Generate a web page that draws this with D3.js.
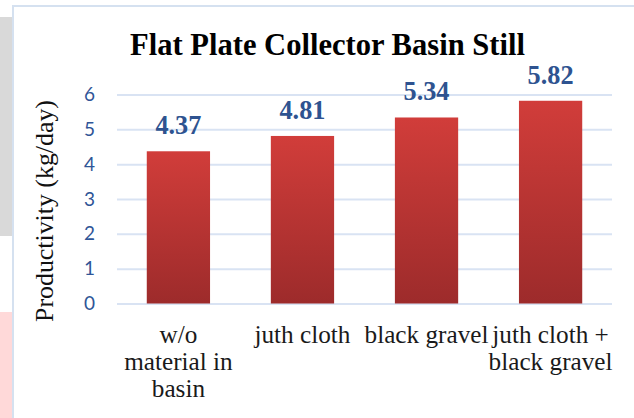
<!DOCTYPE html>
<html><head><meta charset="utf-8">
<script src="https://cdn.jsdelivr.net/npm/d3@7"></script>
<style>html,body{margin:0;padding:0;background:#fff;overflow:hidden}</style>
</head><body>
<script>
const title = "Flat Plate Collector Basin Still";
const yTitle = "Productivity (kg/day)";
const categories = ["w/o\nmaterial in\nbasin", "juth cloth", "black gravel", "juth cloth +\nblack gravel"];
const values = [4.37, 4.81, 5.34, 5.82];
const yTicks = [0, 1, 2, 3, 4, 5, 6];

const W = 634, H = 418;
const serif = "'Liberation Serif', serif";
const sans = "Lato, 'Open Sans', sans-serif";

const svg = d3.select("body").append("svg").attr("width", W).attr("height", H);

// page background fragments
svg.append("rect").attr("x", 0).attr("y", 17).attr("width", 12).attr("height", 219).attr("fill", "#d9d9d9");
svg.append("rect").attr("x", 0).attr("y", 312).attr("width", 12).attr("height", 106).attr("fill", "#ffd9d9");
// chart border
svg.append("path").attr("d", `M13,${H} V6 H${W}`).attr("fill", "none").attr("stroke", "#d5e1f0").attr("stroke-width", 2);

function fitSize(text, family, weight, target) {
  const t = svg.append("text").attr("font-family", family).attr("font-weight", weight).attr("font-size", 100).text(text);
  const w = t.node().getComputedTextLength();
  t.remove();
  return 100 * target / w;
}

const plot = {left: 117, right: 612, top: 94.5, bottom: 303.5};
const x = d3.scaleBand().domain(categories).range([plot.left, plot.right]).paddingInner(0.49).paddingOuter(0.24);
const y = d3.scaleLinear().domain([0, 6]).range([plot.bottom, plot.top]);

// gradient
const defs = svg.append("defs");
const grad = defs.append("linearGradient").attr("id", "barGrad").attr("x1", 0).attr("y1", 0).attr("x2", 0).attr("y2", 1);
grad.append("stop").attr("offset", "0%").attr("stop-color", "#d13d3a");
grad.append("stop").attr("offset", "100%").attr("stop-color", "#9d2b2b");

// gridlines + y axis
const yAxis = svg.append("g").attr("transform", `translate(${plot.left},0)`)
  .call(d3.axisLeft(y).tickValues(yTicks).tickFormat(d3.format("d")).tickSize(-(plot.right - plot.left)).tickPadding(22));
yAxis.select(".domain").remove();
yAxis.selectAll(".tick line").attr("stroke", "#d9e3f3").attr("stroke-width", 2);
yAxis.selectAll(".tick text").attr("fill", "#2f5597").attr("font-family", sans).attr("font-size", 19);

// bars
svg.append("g").selectAll("rect").data(values).join("rect")
  .attr("x", (d, i) => x(categories[i]))
  .attr("width", x.bandwidth())
  .attr("y", d => y(d))
  .attr("height", d => y(0) - y(d))
  .attr("fill", "url(#barGrad)");

// data labels
const dlSize = fitSize("4.81", serif, "bold", 46);
svg.append("g").selectAll("text").data(values).join("text")
  .attr("x", (d, i) => x(categories[i]) + x.bandwidth() / 2)
  .attr("y", d => y(d) - 17)
  .attr("text-anchor", "middle")
  .attr("font-family", serif).attr("font-weight", "bold").attr("font-size", dlSize)
  .attr("fill", "#2e5390")
  .text(d => d3.format(".2f")(d));

// category labels
const catSize = fitSize("juth cloth", serif, "normal", 96);
const cat = svg.append("g").selectAll("text").data(categories).join("text")
  .attr("text-anchor", "middle")
  .attr("font-family", serif).attr("font-size", catSize).attr("fill", "#1a1a1a");
cat.each(function(d) {
  const cx = x(d) + x.bandwidth() / 2;
  d3.select(this).selectAll("tspan").data(d.split("\n")).join("tspan")
    .attr("x", cx)
    .attr("y", (s, j) => plot.bottom + 39.5 + j * 27)
    .text(s => s);
});

// y title
const ytSize = fitSize(yTitle, serif, "normal", 222);
svg.append("text")
  .attr("transform", `translate(53,${(plot.top + plot.bottom) / 2 + 12}) rotate(-90)`)
  .attr("text-anchor", "middle")
  .attr("font-family", serif).attr("font-size", ytSize).attr("fill", "#111")
  .text(yTitle);

// title
const tSize = fitSize(title, serif, "bold", 395);
svg.append("text")
  .attr("x", (130 + 525) / 2).attr("y", 55)
  .attr("text-anchor", "middle")
  .attr("font-family", serif).attr("font-weight", "bold").attr("font-size", tSize).attr("fill", "#000")
  .text(title);
</script>
</body></html>
